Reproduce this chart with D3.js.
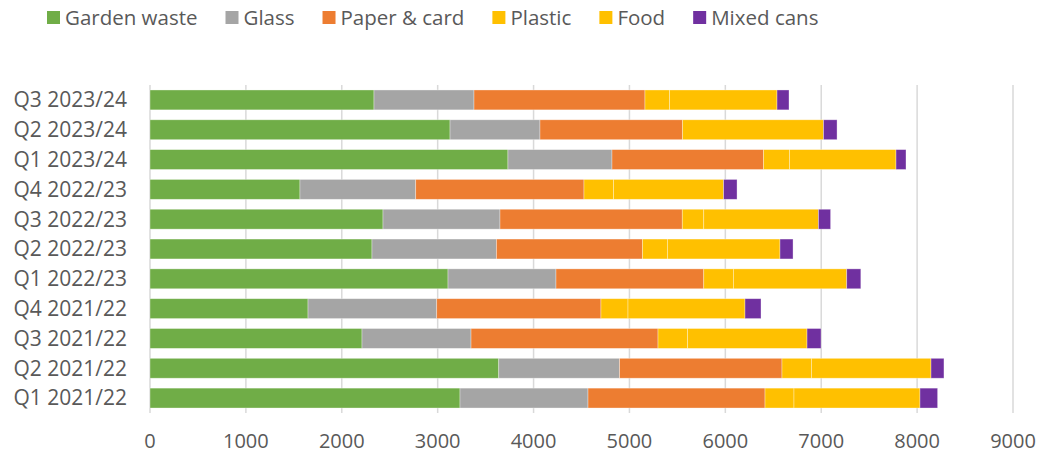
<!DOCTYPE html>
<meta charset="utf-8">
<style>
  body { margin: 0; background: #fff; }
  text { font-family: "Open Sans", sans-serif; fill: #595959; }
  .grid line { stroke: #d9d9d9; stroke-width: 1.5; }
</style>
<body>
<script src="https://d3js.org/d3.v7.min.js"></script>
<script>

// quarters, bottom to top
var quarters = ["Q1 2021/22", "Q2 2021/22", "Q3 2021/22", "Q4 2021/22",
                "Q1 2022/23", "Q2 2022/23", "Q3 2022/23", "Q4 2022/23",
                "Q1 2023/24", "Q2 2023/24", "Q3 2023/24"];

var gardenWaste = [3233, 3637, 2211, 1648, 3108, 2315, 2430, 1564, 3733, 3129, 2336];
var glass       = [1335, 1260, 1137, 1342, 1126, 1298, 1220, 1207, 1085,  938, 1043];
var paperCard   = [1846, 1694, 1950, 1713, 1541, 1523, 1901, 1755, 1581, 1487, 1783];
var plastic     = [ 302,  307,  308,  282,  309,  260,  224,  308,  270,    0,  256];
var food        = [1314, 1247, 1246, 1220, 1182, 1174, 1196, 1148, 1111, 1470, 1121];
var mixedCans   = [ 184,  135,  146,  167,  147,  136,  127,  140,  104,  141,  125];

var seriesNames = ["Garden waste", "Glass", "Paper & card", "Plastic", "Food", "Mixed cans"];
var seriesColors = ["#70ad47", "#a5a5a5", "#ed7d31", "#ffc000", "#ffc000", "#7030a0"];
var xTicks = [0, 1000, 2000, 3000, 4000, 5000, 6000, 7000, 8000, 9000];

var width = 1037, height = 456;
var margin = {top: 85, right: 24, bottom: 43, left: 150};

var rows = quarters.map(function(q, i) {
  return {
    quarter: q,
    "Garden waste": gardenWaste[i],
    "Glass": glass[i],
    "Paper & card": paperCard[i],
    "Plastic": plastic[i],
    "Food": food[i],
    "Mixed cans": mixedCans[i]
  };
});

var svg = d3.select("body").append("svg")
    .attr("width", width)
    .attr("height", height);

var x = d3.scaleLinear()
    .domain([0, 9000])
    .range([margin.left, width - margin.right]);

var y = d3.scaleBand()
    .domain(quarters.slice().reverse())
    .range([margin.top, height - margin.bottom])
    .paddingInner(0.333)
    .paddingOuter(0.167);

var color = d3.scaleOrdinal().domain(seriesNames).range(seriesColors);

// gridlines
svg.append("g")
    .attr("class", "grid")
  .selectAll("line")
    .data(xTicks)
  .enter().append("line")
    .attr("x1", function(d) { return x(d); })
    .attr("x2", function(d) { return x(d); })
    .attr("y1", margin.top)
    .attr("y2", height - margin.bottom);

var stack = d3.stack().keys(seriesNames)(rows);

svg.append("g")
  .selectAll("g")
    .data(stack)
  .enter().append("g")
    .attr("fill", function(d) { return color(d.key); })
  .selectAll("rect")
    .data(function(d) { return d; })
  .enter().append("rect")
    .attr("x", function(d) { return x(d[0]); })
    .attr("y", function(d) { return y(d.data.quarter); })
    .attr("width", function(d) { return x(d[1]) - x(d[0]); })
    .attr("height", y.bandwidth())
    .attr("stroke", "#fff")
    .attr("stroke-opacity", 0.45)
    .attr("stroke-width", 0.75);

// x axis labels
svg.append("g")
  .selectAll("text")
    .data(xTicks)
  .enter().append("text")
    .attr("x", function(d) { return x(d); })
    .attr("y", 448)
    .attr("text-anchor", "middle")
    .style("font-size", "20px")
    .text(function(d) { return d; });

// y axis labels
svg.append("g")
  .selectAll("text")
    .data(quarters)
  .enter().append("text")
    .attr("x", margin.left - 23)
    .attr("y", function(d) { return y(d) + y.bandwidth() / 2; })
    .attr("dy", "0.35em")
    .attr("text-anchor", "end")
    .style("font-size", "21px")
    .text(function(d) { return d; });

// legend
var legend = svg.append("g").attr("class", "legend");
var lx = 47;
seriesNames.forEach(function(name) {
  var item = legend.append("g").attr("transform", "translate(" + lx + ",0)");
  item.append("rect")
      .attr("x", 0).attr("y", 11)
      .attr("width", 13).attr("height", 13)
      .attr("fill", color(name));
  var t = item.append("text")
      .attr("x", 18).attr("y", 25)
      .style("font-size", "20.5px")
      .text(name);
  lx += 18 + t.node().getComputedTextLength() + 28;
});

</script>
</body>
</html>
